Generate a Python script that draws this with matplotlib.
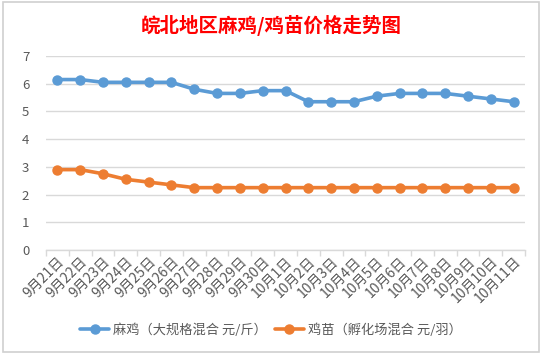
import matplotlib
matplotlib.use("Agg")
import matplotlib.pyplot as plt
from matplotlib.patches import Rectangle

plt.rcParams['font.family'] = ['Noto Sans CJK SC', 'DejaVu Sans']

dates = ["9月21日", "9月22日", "9月23日", "9月24日", "9月25日", "9月26日", "9月27日",
         "9月28日", "9月29日", "9月30日", "10月1日", "10月2日", "10月3日", "10月4日",
         "10月5日", "10月6日", "10月7日", "10月8日", "10月9日", "10月10日", "10月11日"]
maji = [6.15, 6.15, 6.05, 6.05, 6.05, 6.05, 5.8, 5.65, 5.65, 5.75, 5.75, 5.35, 5.35, 5.35,
        5.55, 5.65, 5.65, 5.65, 5.55, 5.45, 5.35]
jimiao = [2.9, 2.9, 2.75, 2.55, 2.45, 2.35, 2.25, 2.25, 2.25, 2.25, 2.25, 2.25, 2.25, 2.25,
          2.25, 2.25, 2.25, 2.25, 2.25, 2.25, 2.25]
label_maji = "麻鸡（大规格混合 元/斤）"
label_jimiao = "鸡苗（孵化场混合 元/羽）"
title = "皖北地区麻鸡/鸡苗价格走势图"
yticks = [0, 1, 2, 3, 4, 5, 6, 7]

W, H = 542, 355
fig = plt.figure(figsize=(W / 100, H / 100), dpi=100)
fig.patch.set_facecolor("white")

# chart border
fig.add_artist(Rectangle((3 / W, 1 - 352 / H), (539 - 3) / W, (352 - 2) / H,
                         transform=fig.transFigure, fill=False, edgecolor="#d0d0d0", lw=1.2))

ax = fig.add_axes([46 / W, 1 - 250 / H, (525 - 46) / W, (250 - 56) / H])
x = list(range(len(dates)))
ax.plot(x, maji, color="#5b9bd5", lw=2.6, marker="o", ms=6.5, label=label_maji, solid_capstyle="round")
ax.plot(x, jimiao, color="#ed7d31", lw=2.6, marker="o", ms=6.5, label=label_jimiao, solid_capstyle="round")

ax.set_xlim(-0.5, len(dates) - 0.5)
ax.set_ylim(0, 7)
ax.set_yticks(yticks)
ax.set_yticklabels([str(v) for v in yticks])
ax.yaxis.grid(True, color="#d9d9d9", lw=1)
ax.set_axisbelow(True)
for s in ["top", "right", "left"]:
    ax.spines[s].set_visible(False)
ax.spines["bottom"].set_color("#d9d9d9")
ax.spines["bottom"].set_linewidth(1)
ax.tick_params(axis="y", length=0, pad=12, labelcolor="#595959", labelsize=9.5)

ax.set_xticks(x)
ax.set_xticklabels(dates, rotation=45, ha="right", va="top", rotation_mode="anchor",
                   fontsize=10, color="#595959")
ax.tick_params(axis="x", which="major", length=0, pad=3)
ax.set_xticks([i - 0.5 for i in range(len(dates) + 1)], minor=True)
ax.tick_params(axis="x", which="minor", length=4, color="#d9d9d9", width=1)

fig.text(0.5, 1 - 25 / H, title, ha="center", va="center", color="#ff0000",
         fontsize=14, fontweight="bold")

leg = fig.legend(loc="center", bbox_to_anchor=(0.5, 1 - 330 / H), ncol=2, frameon=False,
                 fontsize=9.5, handlelength=2.2, handletextpad=0.3, columnspacing=0.6)
for t in leg.get_texts():
    t.set_color("#595959")

fig.savefig("out.png", dpi=100)
